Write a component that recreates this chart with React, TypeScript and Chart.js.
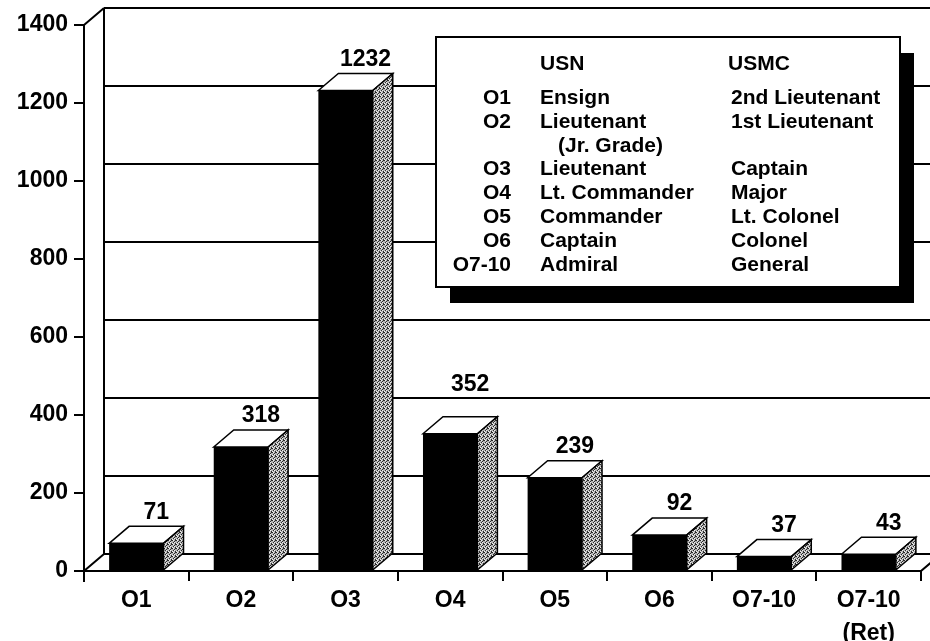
import React, { useEffect, useRef } from 'react';
import { Chart, registerables } from 'chart.js';

Chart.register(...registerables);

const categories: (string | string[])[] = ['O1', 'O2', 'O3', 'O4', 'O5', 'O6', 'O7-10', ['O7-10', '(Ret)']];
const officerCounts = [71, 318, 1232, 352, 239, 92, 37, 43];
const yTickValues = [0, 200, 400, 600, 800, 1000, 1200, 1400];
const legendCodes = ['O1', 'O2', '', 'O3', 'O4', 'O5', 'O6', 'O7-10'];
const legendUSN = ['Ensign', 'Lieutenant', '(Jr. Grade)', 'Lieutenant', 'Lt. Commander', 'Commander', 'Captain', 'Admiral'];
const legendUSMC = ['2nd Lieutenant', '1st Lieutenant', '', 'Captain', 'Major', 'Lt. Colonel', 'Colonel', 'General'];

const FONT = '"Liberation Sans", Arial, Helvetica, sans-serif';
const DX = 20;
const DY = 17;

let sidePattern: CanvasPattern | null = null;
function getPattern(ctx: CanvasRenderingContext2D) {
  if (sidePattern) return sidePattern;
  const c = document.createElement('canvas');
  c.width = 4;
  c.height = 4;
  const p = c.getContext('2d')!;
  p.fillStyle = '#b4b4b4';
  p.fillRect(0, 0, 4, 4);
  p.fillStyle = '#2a2a2a';
  [[0, 0], [2, 1], [1, 2], [3, 3], [3, 0]].forEach(([x, y]) => p.fillRect(x, y, 1, 1));
  p.fillStyle = '#f0f0f0';
  [[1, 0], [0, 3], [2, 2]].forEach(([x, y]) => p.fillRect(x, y, 1, 1));
  sidePattern = ctx.createPattern(c, 'repeat');
  return sidePattern;
}

const threeD = {
  id: 'threeD',
  beforeDatasetsDraw(chart: any) {
    const { ctx, chartArea: a, scales } = chart;
    const y = scales.y;
    const W = chart.width;
    const y0 = y.getPixelForValue(0);
    const yTop = y.getPixelForValue(1400);
    ctx.save();
    ctx.strokeStyle = '#000';
    ctx.lineWidth = 2;
    ctx.beginPath();
    for (const v of yTickValues) {
      if (v === 0) continue;
      const py = y.getPixelForValue(v) - DY;
      ctx.moveTo(a.left + DX, py);
      ctx.lineTo(W, py);
    }
    ctx.moveTo(a.left + DX, yTop - DY);
    ctx.lineTo(a.left + DX, y0 - DY);
    ctx.moveTo(a.left, yTop);
    ctx.lineTo(a.left + DX, yTop - DY);
    // floor
    ctx.moveTo(a.left, y0);
    ctx.lineTo(a.left + DX, y0 - DY);
    ctx.lineTo(a.right + DX, y0 - DY);
    ctx.lineTo(a.right, y0);
    ctx.lineTo(a.left, y0);
    // front axis extension
    ctx.moveTo(a.left, y0);
    ctx.lineTo(a.left, y0 + 11);
    ctx.stroke();
    ctx.restore();
  },
  afterDatasetsDraw(chart: any) {
    const { ctx, scales } = chart;
    const ys = scales.y;
    const meta = chart.getDatasetMeta(0);
    ctx.save();
    ctx.strokeStyle = '#000';
    ctx.lineWidth = 1.5;
    ctx.lineJoin = 'miter';
    meta.data.forEach((bar: any, i: number) => {
      const { x, y, width, base } = bar.getProps(['x', 'y', 'width', 'base'], true);
      const l = x - width / 2;
      const r = x + width / 2;
      // top face
      ctx.beginPath();
      ctx.moveTo(l, y);
      ctx.lineTo(l + DX, y - DY);
      ctx.lineTo(r + DX, y - DY);
      ctx.lineTo(r, y);
      ctx.closePath();
      ctx.fillStyle = '#fff';
      ctx.fill();
      ctx.stroke();
      // side face
      ctx.beginPath();
      ctx.moveTo(r, y);
      ctx.lineTo(r + DX, y - DY);
      ctx.lineTo(r + DX, base - DY);
      ctx.lineTo(r, base);
      ctx.closePath();
      ctx.fillStyle = getPattern(ctx) || '#999';
      ctx.fill();
      ctx.stroke();
      // value label
      let ly = y - DY - 14;
      for (const v of yTickValues) {
        if (v === 0) continue;
        const gy = ys.getPixelForValue(v) - DY;
        if (Math.abs(ly - gy) < 10) ly = gy - 13;
      }
      ctx.fillStyle = '#000';
      ctx.font = `bold 23px ${FONT}`;
      ctx.textAlign = 'center';
      ctx.textBaseline = 'middle';
      ctx.fillText(String(officerCounts[i]), x + DX, ly);
    });
    ctx.restore();
  },
  afterDraw(chart: any) {
    const { ctx } = chart;
    const bx = 436, by = 37, bw = 464, bh = 250;
    ctx.save();
    ctx.fillStyle = '#000';
    ctx.fillRect(bx + 14, by + 16, bw, bh);
    ctx.fillStyle = '#fff';
    ctx.fillRect(bx, by, bw, bh);
    ctx.strokeStyle = '#000';
    ctx.lineWidth = 2;
    ctx.strokeRect(bx, by, bw, bh);
    ctx.fillStyle = '#000';
    ctx.font = `bold 21px ${FONT}`;
    ctx.textBaseline = 'middle';
    ctx.textAlign = 'left';
    ctx.fillText('USN', 540, 64);
    ctx.fillText('USMC', 728, 64);
    legendCodes.forEach((code, i) => {
      const ry = 98 + i * 23.9;
      ctx.textAlign = 'right';
      if (code) ctx.fillText(code, 511, ry);
      ctx.textAlign = 'left';
      ctx.fillText(legendUSN[i], code ? 540 : 558, ry);
      if (legendUSMC[i]) ctx.fillText(legendUSMC[i], 731, ry);
    });
    ctx.restore();
  },
};

export default function App() {
  const ref = useRef<HTMLCanvasElement>(null);
  useEffect(() => {
    if (!ref.current) return;
    const chart = new Chart(ref.current, {
      type: 'bar',
      data: {
        labels: categories as any,
        datasets: [
          {
            data: officerCounts,
            backgroundColor: '#000',
            borderWidth: 0,
            barPercentage: 0.52,
            categoryPercentage: 1,
          },
        ],
      },
      options: {
        animation: false,
        responsive: true,
        maintainAspectRatio: false,
        layout: { padding: { top: 25, right: 9, left: 0, bottom: 0 } },
        plugins: { legend: { display: false }, tooltip: { enabled: false } },
        scales: {
          x: {
            afterFit: (s: any) => {
              s.height = 70;
            },
            grid: {
              display: true,
              drawOnChartArea: false,
              drawTicks: true,
              tickLength: 10,
              offset: true,
              color: '#000',
              lineWidth: 2,
            },
            border: { display: false },
            ticks: {
              color: '#000',
              padding: 4,
              maxRotation: 0,
              font: { family: FONT, size: 23, weight: 'bold', lineHeight: 1.4 },
            },
          },
          y: {
            min: 0,
            max: 1400,
            afterFit: (s: any) => {
              s.width = 84;
            },
            grid: {
              display: true,
              drawOnChartArea: false,
              drawTicks: true,
              tickLength: 10,
              color: '#000',
              lineWidth: 2,
            },
            border: { display: true, color: '#000', width: 2 },
            ticks: {
              stepSize: 200,
              color: '#000',
              padding: 6,
              callback: (v: any) => String(v),
              font: { family: FONT, size: 23, weight: 'bold' },
            },
          },
        },
      },
      plugins: [threeD],
    } as any);
    return () => chart.destroy();
  }, []);
  return (
    <div style={{ position: 'absolute', left: 0, top: 0, width: 930, height: 641, background: '#fff' }}>
      <canvas ref={ref} />
    </div>
  );
}
